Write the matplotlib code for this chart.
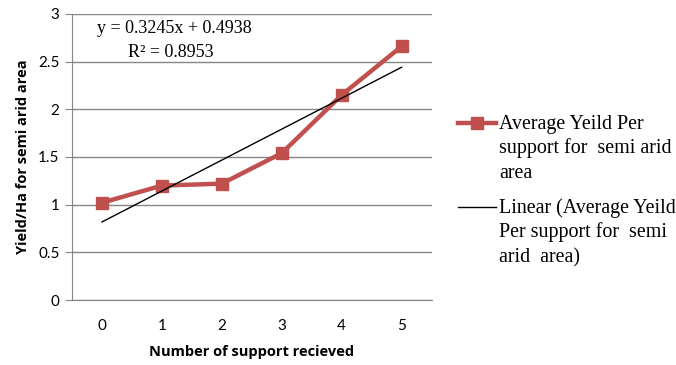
import matplotlib
matplotlib.use("Agg")
from matplotlib import pyplot as plt
from matplotlib.lines import Line2D
import numpy as np

# support count vs average yield (semi arid area)
supports = [0, 1, 2, 3, 4, 5]
avg_yield = [1.02, 1.20, 1.22, 1.54, 2.15, 2.66]

# linear trend as reported (fitted on category positions 1..6)
slope = 0.3245
intercept = 0.4938
r2 = 0.8953

yticks = [0, 0.5, 1, 1.5, 2, 2.5, 3]
ytick_labels = ["0", "0.5", "1", "1.5", "2", "2.5", "3"]

series_label = ['Average Yeild Per', 'support for  semi arid', 'area']
trend_label = ['Linear (Average Yeild', 'Per support for  semi', 'arid  area)']

W, H = 676, 365
fig = plt.figure(figsize=(W / 100, H / 100), dpi=100)
ax = fig.add_axes([0.1065, 0.178, 0.532, 0.784])

x = np.arange(len(supports))
trend = intercept + slope * (x + 1)

ax.plot(x, avg_yield, color='#C0504D', lw=3.2, marker='s', ms=9, zorder=3)
ax.plot(x, trend, color='black', lw=1, zorder=4)

ax.set_xlim(-0.5, 5.5)
ax.set_ylim(0, 3)
ax.set_xticks(x)
ax.set_xticklabels([str(s) for s in supports], fontfamily='Lato', fontsize=11)
ax.set_yticks(yticks)
ax.set_yticklabels(ytick_labels, fontfamily='Lato', fontsize=11)
ax.tick_params(axis='x', length=0, pad=14)
ax.tick_params(axis='y', length=5, color='#868686', pad=4)

ax.grid(axis='y', color='#868686', lw=1)
for s in ['top', 'right']:
    ax.spines[s].set_visible(False)
ax.spines['left'].set_color('#868686')
ax.spines['bottom'].set_color('#868686')

ax.set_xlabel('Number of support recieved', fontfamily='Open Sans',
              fontweight='bold', fontsize=10.5, labelpad=8)
ax.set_ylabel('Yield/Ha for semi arid area', fontfamily='Open Sans',
              fontweight='bold', fontsize=10.5, labelpad=6)

ax.text(0.07, 0.95, f'y = {slope}x + {intercept}', transform=ax.transAxes,
        fontfamily='Liberation Serif', fontsize=13, va='center')
ax.text(0.155, 0.865, f'R² = {r2}', transform=ax.transAxes,
        fontfamily='Liberation Serif', fontsize=13, va='center')

# legend built by hand so the key sits beside the first text line
def legend_entry(y_px, lines, **line_kw):
    y = 1 - y_px / H
    fig.add_artist(Line2D([458 / W, 496 / W], [y, y], transform=fig.transFigure,
                          **line_kw))
    for i, line in enumerate(lines):
        fig.text(499 / W, 1 - (y_px + 6 + i * 24.5) / H, line,
                 fontfamily='Liberation Serif', fontsize=14.4,
                 va='baseline', ha='left')

legend_entry(123, series_label, color='#C0504D', lw=3.2)
fig.add_artist(Line2D([477 / W], [1 - 123 / H], transform=fig.transFigure,
                      color='#C0504D', marker='s', ms=8))
legend_entry(207, trend_label, color='black', lw=1)

fig.savefig('out.png', dpi=100)
